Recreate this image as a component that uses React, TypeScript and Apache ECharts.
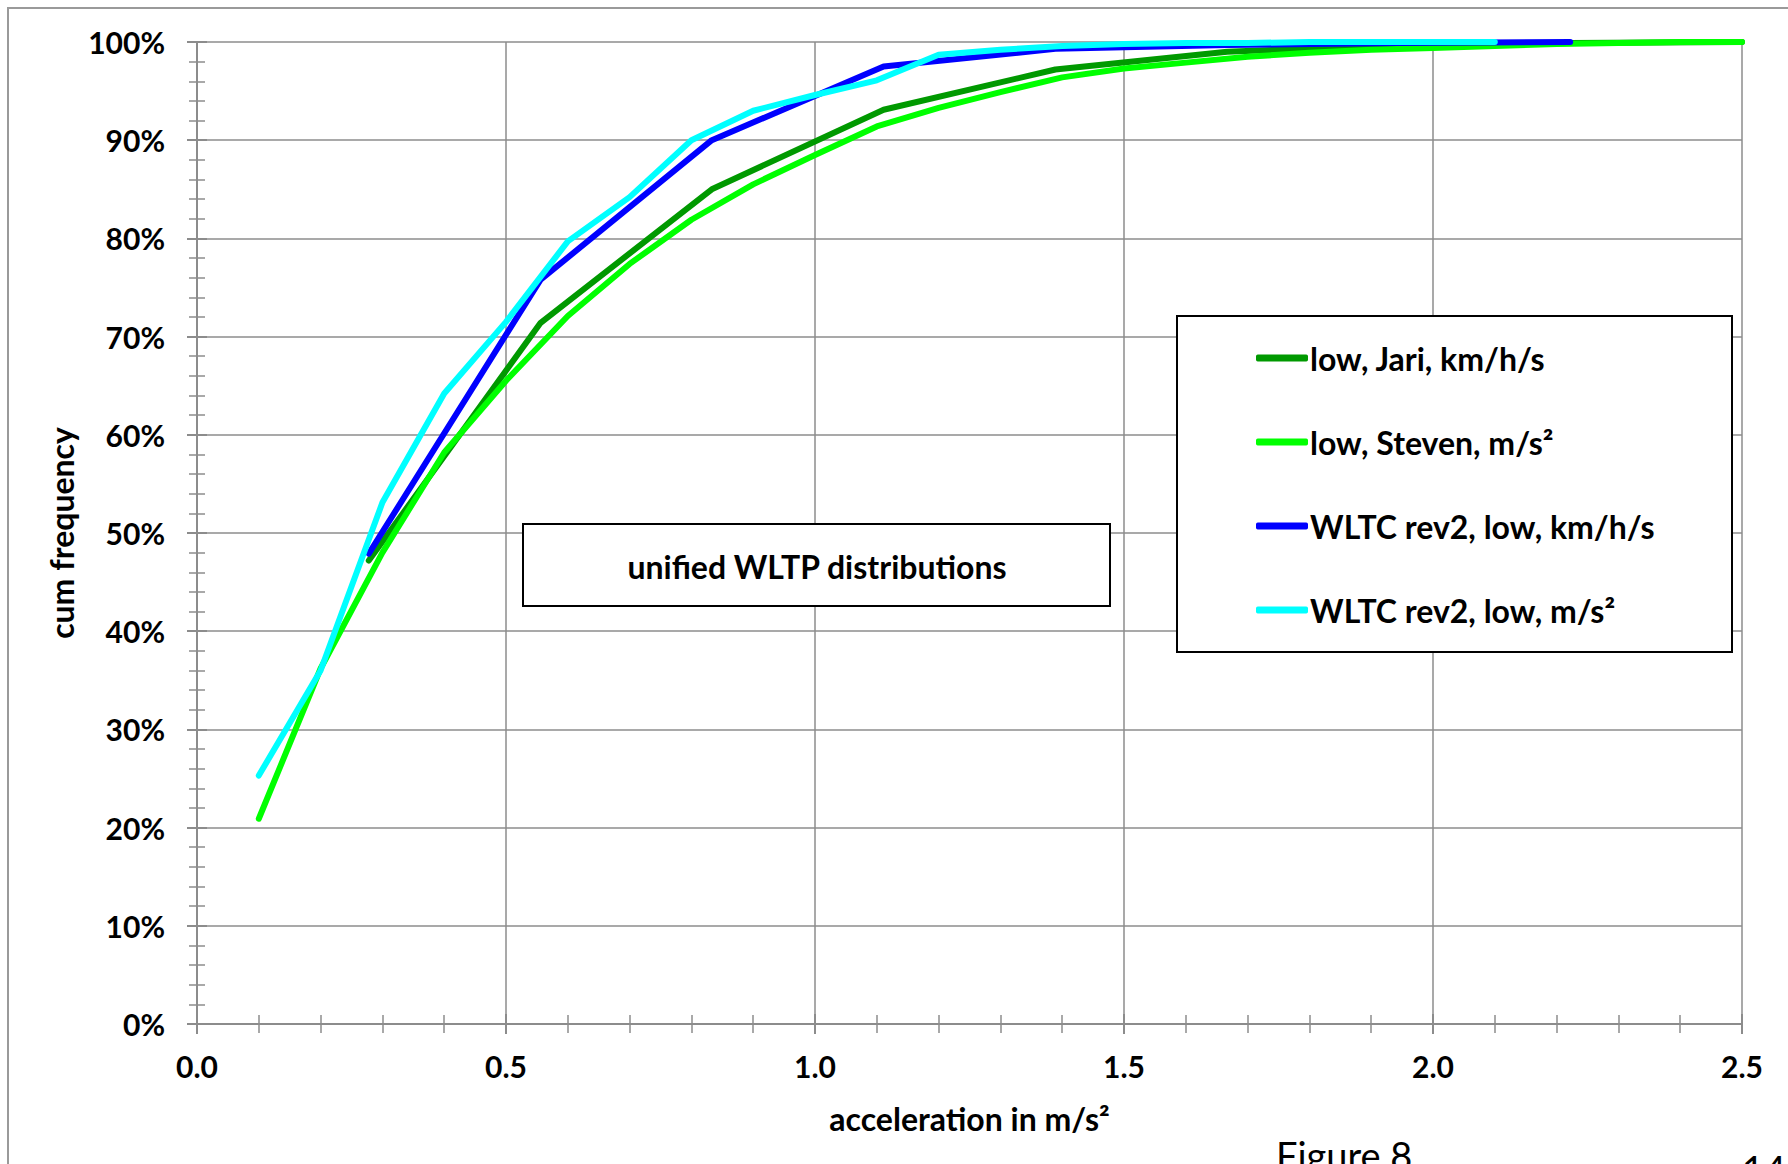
import React, { useEffect, useRef } from "react";
import * as echarts from "echarts";

// ---- data ----
const seriesNames = [
  "low, Jari, km/h/s",
  "low, Steven, m/s²",
  "WLTC rev2, low, km/h/s",
  "WLTC rev2, low, m/s²",
];
const seriesColors = ["#009900", "#00ff00", "#0000ff", "#00ffff"];

// km/h/s classes expressed in m/s²
const kmhX = [0.278, 0.556, 0.833, 1.111, 1.389, 1.667, 1.944, 2.222, 2.5];
const jariY = [47.2, 71.4, 85.0, 93.1, 97.2, 99.0, 99.7, 99.9, 100];

const stevenX = [
  0.1, 0.2, 0.3, 0.4, 0.5, 0.6, 0.7, 0.8, 0.9, 1.0, 1.1, 1.2, 1.3, 1.4, 1.5,
  1.6, 1.7, 1.8, 1.9, 2.0, 2.1, 2.2, 2.3, 2.4, 2.5,
];
const stevenY = [
  20.9, 36.2, 48.0, 58.2, 65.5, 72.1, 77.4, 81.9, 85.5, 88.5, 91.4, 93.3, 94.9,
  96.4, 97.3, 97.9, 98.5, 98.9, 99.2, 99.4, 99.6, 99.8, 99.9, 100, 100,
];

const wltcKmhX = [0.278, 0.556, 0.833, 1.111, 1.389, 1.667, 1.944, 2.222];
const wltcKmhY = [47.9, 75.8, 90.0, 97.5, 99.3, 99.7, 99.9, 100];

const wltcMsX = [
  0.1, 0.2, 0.3, 0.4, 0.5, 0.6, 0.7, 0.8, 0.9, 1.0, 1.1, 1.2, 1.3, 1.4, 1.5,
  1.6, 1.7, 1.8, 1.9, 2.0, 2.1,
];
const wltcMsY = [
  25.3, 36.0, 53.1, 64.2, 71.5, 79.7, 84.2, 90.0, 93.0, 94.6, 96.1, 98.7, 99.2,
  99.6, 99.8, 99.9, 99.9, 100, 100, 100, 100,
];

const xTickLabels = ["0.0", "0.5", "1.0", "1.5", "2.0", "2.5"];
const yTickLabels = ["0%", "10%", "20%", "30%", "40%", "50%", "60%", "70%", "80%", "90%", "100%"];

const xTitle = "acceleration in m/s²";
const yTitle = "cum frequency";
const boxTitle = "unified WLTP distributions";
const figureCaption = "Figure 8";
const pageNumber = "14";

const FONT = "Lato";
const GRID_GRAY = "#8c8c8c";

const zip = (xs: number[], ys: number[]) => xs.map((x, i) => [x, ys[i]]);

export default function App() {
  const ref = useRef<HTMLDivElement>(null);

  useEffect(() => {
    if (!ref.current) return;
    const chart = echarts.init(ref.current, undefined, { renderer: "svg" });

    const seriesData = [
      zip(kmhX, jariY),
      zip(stevenX, stevenY),
      zip(wltcKmhX, wltcKmhY),
      zip(wltcMsX, wltcMsY),
    ];

    const tickStyle = { color: GRID_GRAY, width: 2 };
    const minorStyle = { color: GRID_GRAY, width: 1.5 };

    const option: any = {
      animation: false,
      backgroundColor: "#ffffff",
      textStyle: { fontFamily: FONT },
      grid: { left: 197, top: 42, width: 1545, height: 982, containLabel: false },
      xAxis: [
        {
          type: "value",
          min: 0,
          max: 2.5,
          interval: 0.5,
          position: "bottom",
          axisLine: { show: true, onZero: false, lineStyle: { color: GRID_GRAY, width: 2 } },
          axisTick: { show: true, inside: false, length: 10, lineStyle: tickStyle },
          minorTick: { show: true, splitNumber: 5, length: 9, lineStyle: minorStyle },
          splitLine: { show: true, lineStyle: { color: GRID_GRAY, width: 1.5 } },
          axisLabel: {
            margin: 27,
            fontSize: 30,
            fontWeight: "bold",
            fontFamily: FONT,
            color: "#000",
            formatter: (v: number) => xTickLabels[Math.round(v / 0.5)] ?? "",
          },
          name: xTitle,
          nameLocation: "middle",
          nameGap: 94,
          nameTextStyle: {
            fontSize: 32,
            fontWeight: "bold",
            fontFamily: FONT,
            color: "#000",
            verticalAlign: "middle",
          },
        },
        {
          type: "value",
          min: 0,
          max: 2.5,
          interval: 0.5,
          position: "bottom",
          axisLine: { show: false, onZero: false },
          axisTick: { show: true, inside: true, length: 10, lineStyle: tickStyle },
          minorTick: { show: true, splitNumber: 5, length: 9, lineStyle: minorStyle },
          splitLine: { show: false },
          axisLabel: { show: false },
        },
      ],
      yAxis: [
        {
          type: "value",
          min: 0,
          max: 100,
          interval: 10,
          position: "left",
          axisLine: { show: true, onZero: false, lineStyle: { color: GRID_GRAY, width: 2 } },
          axisTick: { show: true, inside: false, length: 10, lineStyle: tickStyle },
          minorTick: { show: true, splitNumber: 5, length: 8, lineStyle: minorStyle },
          splitLine: { show: true, lineStyle: { color: GRID_GRAY, width: 1.5 } },
          axisLabel: {
            margin: 32,
            fontSize: 30,
            fontWeight: "bold",
            fontFamily: FONT,
            color: "#000",
            formatter: (v: number) => yTickLabels[Math.round(v / 10)] ?? "",
          },
          name: yTitle,
          nameLocation: "middle",
          nameRotate: 90,
          nameGap: 132,
          nameTextStyle: {
            fontSize: 32,
            fontWeight: "bold",
            fontFamily: FONT,
            color: "#000",
            verticalAlign: "middle",
            align: "center",
          },
        },
        {
          type: "value",
          min: 0,
          max: 100,
          interval: 10,
          position: "left",
          axisLine: { show: false, onZero: false },
          axisTick: { show: true, inside: true, length: 10, lineStyle: tickStyle },
          minorTick: { show: true, splitNumber: 5, length: 8, lineStyle: minorStyle },
          splitLine: { show: false },
          axisLabel: { show: false },
        },
      ],
      legend: {
        data: seriesNames,
        orient: "vertical",
        left: 1256,
        top: 341,
        padding: 0,
        itemWidth: 52,
        itemHeight: 7,
        itemGap: 50,
        icon: "roundRect",
        selectedMode: false,
        z: 10,
        textStyle: {
          fontSize: 32,
          fontWeight: "bold",
          fontFamily: FONT,
          color: "#000",
          lineHeight: 34,
          padding: [0, 0, 0, -3],
        },
      },
      series: seriesNames.map((name, i) => ({
        name,
        type: "line",
        xAxisIndex: 0,
        yAxisIndex: 0,
        data: seriesData[i],
        symbol: "none",
        showSymbol: false,
        z: 2 + i * 0.1,
        itemStyle: { color: seriesColors[i] },
        lineStyle: { color: seriesColors[i], width: 6, cap: "round", join: "round" },
      })),
      graphic: [
        {
          type: "rect",
          z: 0,
          silent: true,
          shape: { x: 8, y: 8, width: 3000, height: 3000 },
          style: { fill: "none", stroke: "#9a9a9a", lineWidth: 2 },
        },
        {
          type: "rect",
          z: 5,
          shape: { x: 523, y: 524, width: 587, height: 82 },
          style: { fill: "#ffffff", stroke: "#000000", lineWidth: 2 },
        },
        {
          type: "text",
          z: 6,
          x: 817,
          y: 566,
          style: {
            text: boxTitle,
            fill: "#000",
            fontSize: 32,
            fontWeight: "bold",
            fontFamily: FONT,
            align: "center",
            verticalAlign: "middle",
          },
        },
        {
          type: "rect",
          z: 5,
          shape: { x: 1177, y: 316, width: 555, height: 336 },
          style: { fill: "#ffffff", stroke: "#000000", lineWidth: 2 },
        },
        {
          type: "text",
          z: 6,
          x: 1276,
          y: 1136,
          style: {
            text: figureCaption,
            fill: "#000",
            fontSize: 38,
            fontFamily: FONT,
            align: "left",
            verticalAlign: "top",
          },
        },
        {
          type: "text",
          z: 6,
          x: 1742,
          y: 1150,
          style: {
            text: pageNumber,
            fill: "#000",
            fontSize: 38,
            fontFamily: FONT,
            align: "left",
            verticalAlign: "top",
          },
        },
      ],
    };

    chart.setOption(option);
    return () => chart.dispose();
  }, []);

  return (
    <div
      ref={ref}
      style={{ position: "fixed", left: 0, top: 0, width: 1788, height: 1164, background: "#fff" }}
    />
  );
}
